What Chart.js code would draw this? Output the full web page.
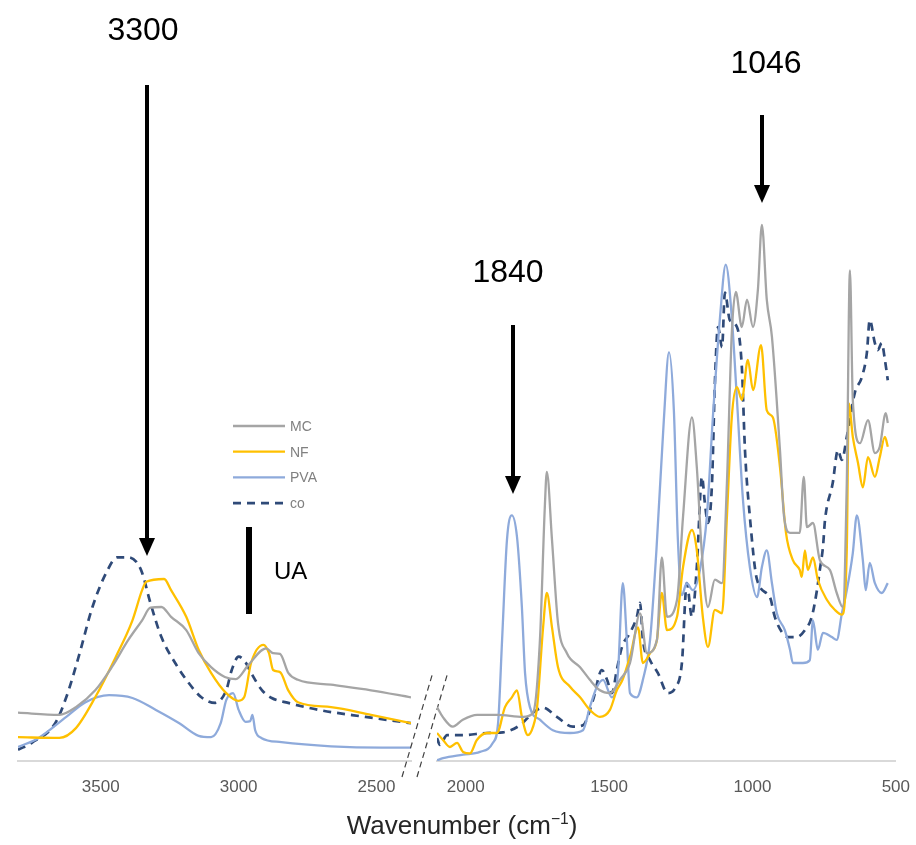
<!DOCTYPE html>
<html>
<head>
<meta charset="utf-8">
<title>FTIR</title>
<script src="https://cdn.jsdelivr.net/npm/chart.js@4.4.1/dist/chart.umd.min.js"></script>
<style>
    html, body { margin: 0; padding: 0; background: #fff; overflow: hidden; }
    #lienzo { position: relative; width: 916px; height: 845px; overflow: hidden; }
    #lienzo canvas { position: absolute; top: 0; }
    #titulo-x {
        position: absolute; left: 4px; top: 810px; width: 916px; line-height: 30px;
        text-align: center; color: #262626;
        font: 26px 'Liberation Sans', Arial, sans-serif;
    }
    #titulo-x sup { font-size: 60%; line-height: 0; }
</style>
</head>
<body>
<div id="lienzo">
    <canvas id="graficoIzq" width="460" height="845" style="left:0"></canvas>
    <canvas id="graficoDer" width="506" height="845" style="left:420px"></canvas>
    <div id="titulo-x">Wavenumber (cm<sup>−1</sup>)</div>
</div>
<script>
// Series y colores
const series = ['MC', 'NF', 'PVA', 'co'];
const colores = ['#a5a5a5', '#ffc000', '#8eaadb', '#2f4a78'];

// Marcas del eje x (cm-1)
const ticksIzq = [3500, 3000, 2500];
const ticksDer = [2000, 1500, 1000, 500];

// Tramo izquierdo: [numero de onda, absorbancia (u.a.)]
const mcIzq = [[3800,6.9],[3650,6.6],[3590,7.7],[3520,10.1],[3460,13.4],[3400,17.3],[3350,20.1],[3320,21.9],[3280,22],[3245,20.6],[3190,18.7],[3145,15.4],[3100,13.4],[3050,12],[3010,11.7],[2965,13.7],[2900,16.1],[2875,15.4],[2850,15.3],[2820,12.6],[2785,11.6],[2665,10.9],[2520,10.1],[2375,9.1]];
const nfIzq = [[3800,3.4],[3650,3.3],[3590,4.7],[3520,9.1],[3445,14.9],[3385,20.1],[3350,24.4],[3335,25.6],[3270,26],[3245,24.4],[3190,20.6],[3145,15.9],[3100,12.6],[3045,9.7],[3000,8.6],[2980,9.1],[2955,14],[2910,16.6],[2890,15.4],[2875,13],[2850,12.7],[2820,10.1],[2785,8.4],[2665,7.7],[2520,6.6],[2375,5.4]];
const pvaIzq = [[3800,2],[3725,3.3],[3625,6.3],[3555,8.4],[3470,9.4],[3385,9],[3300,7.3],[3215,5.4],[3145,3.6],[3100,3.4],[3065,5.4],[3045,8.7],[3020,9.7],[3000,7.3],[2975,5.6],[2958,5.7],[2950,6.6],[2940,4.4],[2918,3.3],[2845,2.7],[2665,2.1],[2480,1.9],[2375,1.9]];
const coIzq = [[3800,1.6],[3750,2.6],[3665,5.4],[3625,9.1],[3580,14.9],[3530,22],[3480,26.9],[3440,29.1],[3400,29.1],[3370,28.4],[3350,26.9],[3320,22.6],[3280,17.7],[3230,14],[3180,11.1],[3135,9.1],[3085,8.3],[3045,10.1],[3025,13],[3000,14.9],[2975,14.1],[2955,12.6],[2915,10.1],[2880,9],[2820,8.3],[2710,7.3],[2540,6.3],[2375,5.4]];

// Tramo derecho
const mcDer = [[2100,7.7],[2080,6.3],[2045,4.9],[2010,5.9],[1960,6.6],[1890,6.6],[1800,6.3],[1765,6.9],[1741,17.3],[1724,36.3],[1717,41.3],[1699,31.6],[1678,19.7],[1647,15.4],[1601,13.4],[1567,11.6],[1532,10.1],[1497,9.7],[1462,11.6],[1427,14],[1392,21.1],[1368,15.4],[1333,17.3],[1316,29.1],[1298,20.6],[1263,23],[1242,34.9],[1211,49.1],[1194,42],[1177,30.1],[1155,22],[1131,25.9],[1106,25.4],[1089,39.7],[1072,61.1],[1058,67],[1037,62],[1019,65.9],[998,62],[981,67.3],[967,76.6],[950,65.9],[932,60.6],[904,44.4],[890,35],[869,32.6],[835,32.6],[821,40.6],[810,33.4],[789,34],[765,28.7],[730,27.3],[706,24],[685,22],[671,39.7],[660,70.1],[650,51.6],[625,45.4],[597,48.7],[573,44],[556,44.9],[535,49.7],[528,48.3]];
const nfDer = [[2100,4],[2079,3],[2055,2],[2030,2.6],[2009,1.3],[1985,1.1],[1961,3],[1926,4],[1891,4],[1863,7.7],[1839,9.1],[1821,10.1],[1804,6.3],[1783,3.7],[1765,4.9],[1751,7.7],[1730,19.1],[1717,24],[1699,19.1],[1678,13.4],[1636,10.6],[1601,9.1],[1567,7.3],[1532,6.3],[1497,7.3],[1473,10.1],[1453,11.6],[1427,14.9],[1399,19.1],[1382,14],[1357,15.4],[1333,17.3],[1316,24],[1298,18.7],[1263,20.6],[1242,27.7],[1211,33],[1194,30.1],[1173,20.6],[1155,16.3],[1131,21.6],[1106,21.1],[1089,34.9],[1072,49.1],[1054,53.4],[1037,51.6],[1016,57.3],[998,53],[970,59.4],[950,50.1],[929,49.1],[904,42],[883,32.6],[859,28.7],[835,27.3],[828,26.3],[817,30.1],[807,27.3],[789,29.1],[772,25.9],[740,23],[713,21.6],[688,20.9],[671,30.1],[664,51.1],[650,46.3],[632,42.6],[615,39.1],[597,43.4],[573,40.6],[556,43.4],[538,46.3],[528,44.9]];
const pvaDer = [[2100,0.1],[2079,0.4],[2009,0.9],[1950,1.3],[1905,2.6],[1887,5.4],[1873,17.3],[1856,31.6],[1839,35.1],[1821,32],[1804,22],[1793,12.6],[1776,7.7],[1741,5.9],[1696,4.4],[1636,4],[1591,4.4],[1567,7.7],[1542,10.6],[1521,11.6],[1490,9.1],[1469,12.6],[1452,25.4],[1438,17.3],[1427,9.7],[1403,9.1],[1382,11.6],[1357,17.3],[1335,30],[1309,48.7],[1291,58.4],[1274,50.1],[1260,31.6],[1246,23.7],[1229,25.4],[1208,24.4],[1183,27.3],[1159,34.9],[1138,49.1],[1113,63.4],[1093,70.9],[1072,63.4],[1054,51.6],[1033,37.3],[1009,27.7],[984,23.4],[967,27.7],[950,30.1],[932,25.4],[915,21.1],[887,18.7],[869,15.9],[859,14],[824,14],[800,14.4],[789,20.1],[772,15.9],[754,18.3],[723,17.7],[706,17.3],[688,21.1],[671,24.4],[650,29.7],[636,35.1],[615,28.7],[605,24.4],[591,28.3],[573,25.4],[549,24],[528,25.4]];
const coDer = [[2100,3.3],[2090,2.3],[2065,3.7],[2009,3.7],[1926,4],[1870,4.1],[1811,5.1],[1765,6.9],[1730,7.6],[1682,6.3],[1626,4.9],[1591,5.1],[1556,8.7],[1525,13],[1507,11.6],[1490,9.7],[1473,13],[1455,16.3],[1427,18.3],[1403,20.6],[1392,22.6],[1382,17.3],[1357,14.4],[1330,12.6],[1295,9.7],[1270,10.4],[1246,14],[1229,25.4],[1211,20.6],[1194,27.7],[1176,40.6],[1166,36.9],[1155,34],[1141,39.7],[1131,54],[1120,62],[1106,59.1],[1096,66.9],[1079,63],[1054,62],[1037,56.3],[1026,44.4],[1009,34.9],[984,25.9],[939,23.4],[922,20.6],[897,18.4],[876,17.7],[845,17.7],[817,18.7],[793,20.6],[775,24.4],[765,27.3],[754,30.6],[747,34.4],[720,39.7],[702,44.4],[688,43],[671,46.3],[643,52.6],[618,54.9],[601,58.3],[591,63],[573,59.7],[563,58.7],[549,59.7],[538,57.3],[528,54.4]];

const FUENTE = "'Liberation Sans', Arial, sans-serif";
Chart.defaults.font.family = FUENTE;

function crearDatasets(datos) {
    return series.map((nombre, i) => ({
        label: nombre,
        data: datos[i].map(([x, y]) => ({ x, y })),
        borderColor: colores[i],
        borderWidth: i === 3 ? 2.7 : 2.3,
        borderDash: i === 3 ? [8, 6] : [],
        pointRadius: 0,
        cubicInterpolationMode: 'monotone',
        fill: false
    }));
}

function crearOpciones(min, max, marcas, padding) {
    return {
        responsive: false,
        animation: false,
        layout: { padding },
        plugins: { legend: { display: false }, tooltip: { enabled: false } },
        scales: {
            x: {
                type: 'linear',
                reverse: true,
                min, max,
                afterBuildTicks: eje => { eje.ticks = marcas.map(v => ({ value: v })); },
                afterFit: eje => { eje.height = 84; },
                grid: { display: false, drawTicks: false },
                border: { display: true, color: '#d9d9d9', width: 2 },
                ticks: {
                    padding: 16, autoSkip: false, maxRotation: 0,
                    color: '#595959', font: { size: 17 },
                    callback: v => String(v)
                }
            },
            y: { display: false, min: 0, max: 100 }
        }
    };
}

// Flecha vertical negra
function dibujarFlecha(ctx, x, y0, y1) {
    ctx.strokeStyle = '#000';
    ctx.fillStyle = '#000';
    ctx.lineWidth = 4;
    ctx.beginPath();
    ctx.moveTo(x, y0);
    ctx.lineTo(x, y1 - 14);
    ctx.stroke();
    ctx.beginPath();
    ctx.moveTo(x - 8, y1 - 18);
    ctx.lineTo(x + 8, y1 - 18);
    ctx.lineTo(x, y1);
    ctx.closePath();
    ctx.fill();
}

function dibujarTexto(ctx, texto, x, y, size, align) {
    ctx.fillStyle = '#000';
    ctx.font = size + 'px ' + FUENTE;
    ctx.textAlign = align || 'center';
    ctx.textBaseline = 'middle';
    ctx.fillText(texto, x, y);
}

const anotacionesIzq = {
    id: 'anotacionesIzq',
    afterDraw(chart) {
        const ctx = chart.ctx;
        ctx.save();
        // 3300
        dibujarTexto(ctx, '3300', 143, 31, 32);
        dibujarFlecha(ctx, 147, 85, 556);
        // barra UA
        ctx.fillStyle = '#000';
        ctx.fillRect(246, 527, 6, 87);
        dibujarTexto(ctx, 'UA', 274, 572, 24, 'left');
        // leyenda
        chart.data.datasets.forEach((ds, i) => {
            const y = 426 + i * 25.7;
            ctx.strokeStyle = ds.borderColor;
            ctx.lineWidth = ds.borderWidth;
            ctx.setLineDash(ds.borderDash);
            ctx.beginPath();
            ctx.moveTo(233, y);
            ctx.lineTo(285, y);
            ctx.stroke();
            ctx.setLineDash([]);
            ctx.fillStyle = '#808080';
            ctx.font = '14px ' + FUENTE;
            ctx.textAlign = 'left';
            ctx.textBaseline = 'middle';
            ctx.fillText(ds.label, 290, y + 1);
        });
        // corte del eje
        ctx.strokeStyle = '#404040';
        ctx.lineWidth = 1.2;
        ctx.setLineDash([6, 4]);
        ctx.beginPath();
        ctx.moveTo(402, 777); ctx.lineTo(433, 672);
        ctx.moveTo(417, 777); ctx.lineTo(448, 672);
        ctx.stroke();
        ctx.restore();
    }
};

const anotacionesDer = {
    id: 'anotacionesDer',
    afterDraw(chart) {
        const ctx = chart.ctx;
        ctx.save();
        dibujarTexto(ctx, '1840', 88, 273, 32);
        dibujarFlecha(ctx, 93, 325, 494);
        dibujarTexto(ctx, '1046', 346, 64, 32);
        dibujarFlecha(ctx, 342, 115, 203);
        ctx.restore();
    }
};

new Chart(document.getElementById('graficoIzq').getContext('2d'), {
    type: 'line',
    data: { datasets: crearDatasets([mcIzq, nfIzq, pvaIzq, coIzq]) },
    options: crearOpciones(2375, 3800, ticksIzq, { left: 18, right: 49, top: 61, bottom: 0 }),
    plugins: [anotacionesIzq]
});

new Chart(document.getElementById('graficoDer').getContext('2d'), {
    type: 'line',
    data: { datasets: crearDatasets([mcDer, nfDer, pvaDer, coDer]) },
    options: crearOpciones(500, 2100, ticksDer, { left: 17, right: 10, top: 61, bottom: 0 }),
    plugins: [anotacionesDer]
});
</script>
</body>
</html>
